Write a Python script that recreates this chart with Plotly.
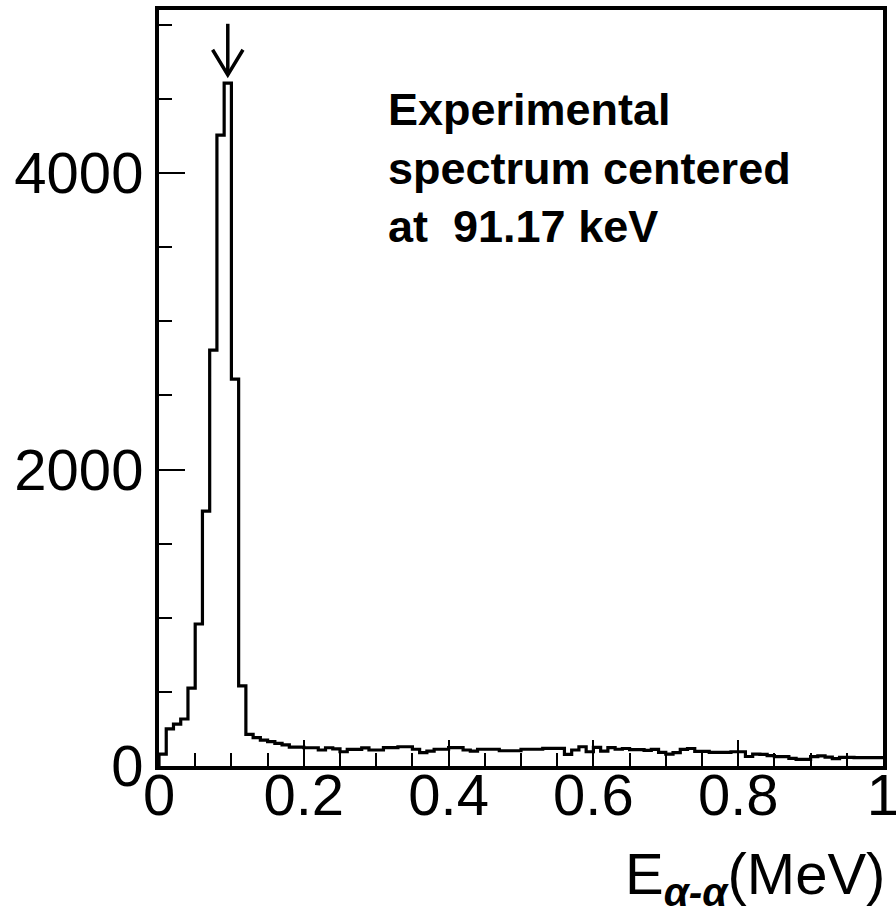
import plotly.graph_objects as go

# ---- data ----
bin_width = 0.01
bin_left_edges = [round(i * bin_width, 2) for i in range(100)]
counts = [
    80, 250, 283, 317, 526, 958, 1720, 2806, 4256, 4607,
    2610, 540, 214, 191, 175, 164, 153, 142, 128, 128,
    123, 123, 108, 123, 115, 96, 112, 112, 122, 108,
    108, 124, 124, 130, 130, 113, 90, 101, 113, 113,
    124, 124, 108, 101, 113, 113, 113, 103, 103, 103,
    113, 113, 113, 119, 119, 119, 79, 108, 130, 96,
    126, 101, 124, 113, 118, 110, 110, 106, 112, 92,
    80, 90, 112, 118, 98, 98, 92, 92, 92, 96,
    96, 64, 80, 79, 70, 63, 63, 52, 45, 45,
    63, 68, 60, 50, 58, 58, 56, 56, 56, 56,
]
x_tickvals = [0, 0.2, 0.4, 0.6, 0.8, 1]
x_ticktext = ["0", "0.2", "0.4", "0.6", "0.8", "1"]
y_tickvals = [0, 2000, 4000]
y_ticktext = ["0", "2000", "4000"]
note_lines = ["Experimental", "spectrum centered", "at&nbsp; 91.17 keV"]
x_title = "E<sub><b><i>α-α</i></b></sub>(MeV)"

# step outline of the histogram
xs = [0.0] + bin_left_edges + [1.0]
ys = [0] + counts + [counts[-1]]

fig = go.Figure()
fig.add_trace(go.Scatter(
    x=xs, y=ys, mode="lines", line=dict(shape="hv", color="black", width=3.2),
    hoverinfo="skip", showlegend=False,
))

# arrow pointing at the peak bin
ipk = max(range(len(counts)), key=lambda i: counts[i])
xc = bin_left_edges[ipk] + bin_width / 2
tip = counts[ipk] + 55
top = counts[ipk] + 400
fig.add_shape(type="line", x0=xc, x1=xc, y0=tip, y1=top,
              line=dict(color="black", width=3.5))
fig.add_shape(type="path",
              path=f"M {xc-0.021},{tip+170} L {xc},{tip} L {xc+0.021},{tip+170}",
              line=dict(color="black", width=3.5))

fig.add_annotation(
    x=0.313, y=0.905, xref="paper", yref="paper", xanchor="left", yanchor="top",
    align="left", showarrow=False, text="<br>".join(note_lines),
    font=dict(family="Liberation Sans, Arial, sans-serif", size=45, color="black", weight="bold"),
)
fig.add_annotation(
    x=1.005, y=-0.148, xref="paper", yref="paper", xanchor="right", yanchor="middle",
    showarrow=False, text=x_title,
    font=dict(family="Liberation Sans, Arial, sans-serif", size=58, color="black"),
)

tickfont = dict(family="Liberation Sans, Arial, sans-serif", size=58, color="black")
fig.update_layout(
    width=896, height=919,
    margin=dict(l=159, r=13, t=10, b=153, autoexpand=False),
    paper_bgcolor="white", plot_bgcolor="white",
    xaxis=dict(range=[0, 1.00001], tickvals=x_tickvals, ticktext=x_ticktext,
               ticks="inside", ticklen=26, tickwidth=2, tickcolor="black",
               ticklabelstandoff=-25, ticklabeloverflow="allow", automargin=False,
               minor=dict(dtick=0.05, ticks="inside", ticklen=13, tickwidth=2, tickcolor="black"),
               showline=True, linewidth=4, linecolor="black", mirror=True,
               showgrid=False, zeroline=False, tickfont=tickfont),
    yaxis=dict(range=[0, 5100], tickvals=y_tickvals, ticktext=y_ticktext,
               ticks="inside", ticklen=26, tickwidth=2, tickcolor="black",
               automargin=False,
               minor=dict(dtick=500, ticks="inside", ticklen=13, tickwidth=2, tickcolor="black"),
               showline=True, linewidth=4, linecolor="black", mirror=True,
               showgrid=False, zeroline=False, tickfont=tickfont),
)

fig.write_html("out.html")
